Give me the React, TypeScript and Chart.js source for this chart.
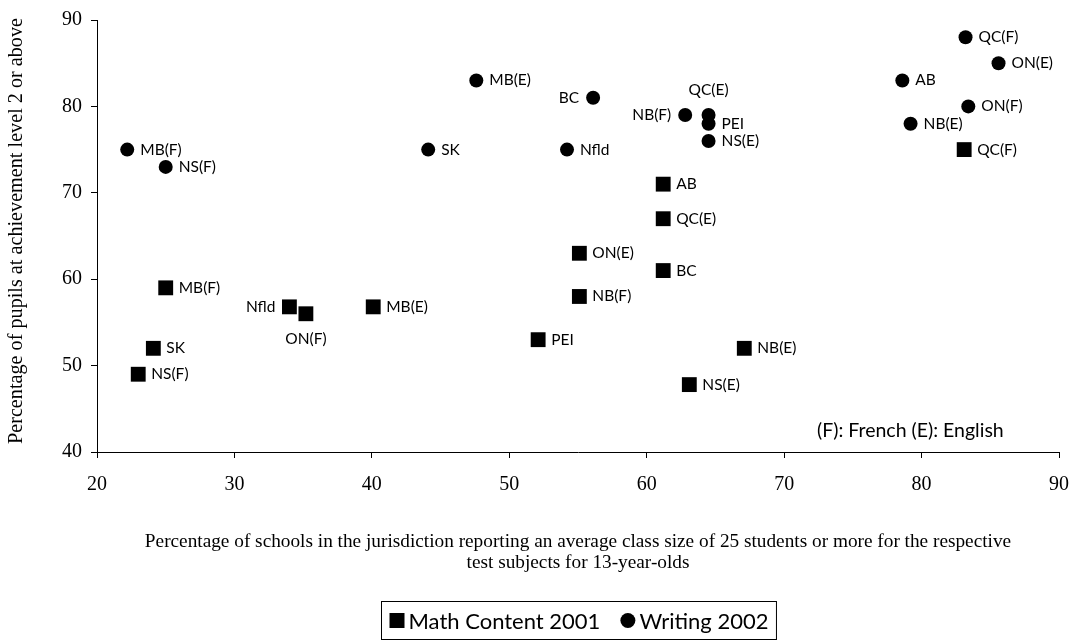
import React, { useEffect, useRef } from "react";
import { Chart, registerables } from "chart.js";

Chart.register(...registerables);

// ---- Data ----
const mathLabels = ["MB(F)", "NS(F)", "SK", "Nfld", "ON(F)", "MB(E)", "PEI", "ON(E)", "NB(F)", "AB", "QC(E)", "BC", "NS(E)", "NB(E)", "QC(F)"];
const mathX = [25.0, 23.0, 24.1, 34.0, 35.2, 40.1, 52.1, 55.1, 55.1, 61.2, 61.2, 61.2, 63.1, 67.1, 83.1];
const mathY = [59, 49, 52, 56.8, 56, 56.8, 53, 63, 58, 71, 67, 61, 47.8, 52, 75];
const mathPlacement = ["right", "right", "right", "left", "below", "right", "right", "right", "right", "right", "right", "right", "right", "right", "right"];

const writingLabels = ["MB(F)", "NS(F)", "SK", "MB(E)", "Nfld", "BC", "NB(F)", "QC(E)", "PEI", "NS(E)", "AB", "NB(E)", "QC(F)", "ON(F)", "ON(E)"];
const writingX = [22.2, 25.0, 44.1, 47.6, 54.2, 56.1, 62.8, 64.5, 64.5, 64.5, 78.6, 79.2, 83.2, 83.4, 85.6];
const writingY = [75, 73, 75, 83, 75, 81, 79, 79, 78, 76, 83, 78, 88, 80, 85];
const writingPlacement = ["right", "right", "right", "right", "right", "left", "left", "above", "right", "right", "right", "right", "right", "right", "right"];

const seriesNames = ["Math Content 2001", "Writing 2002"];
const xTitleLines = [
  "Percentage of schools in the jurisdiction reporting an average class size of 25 students or more for the respective",
  "test subjects for 13-year-olds",
];
const yTitle = "Percentage of pupils at achievement level 2 or above";
const noteText = "(F): French (E): English";

const labelSets = [mathLabels, writingLabels];
const placementSets = [mathPlacement, writingPlacement];

const SERIF = "'Liberation Serif', 'Times New Roman', serif";
const SANS = "Lato, 'Open Sans', sans-serif";

const decorPlugin = {
  id: "decor",
  afterDatasetsDraw(chart: any) {
    const ctx = chart.ctx;
    ctx.save();
    ctx.fillStyle = "#000";
    ctx.font = `15.5px ${SANS}`;
    ctx.textBaseline = "middle";
    chart.data.datasets.forEach((_ds: any, di: number) => {
      const meta = chart.getDatasetMeta(di);
      meta.data.forEach((pt: any, i: number) => {
        const pl = placementSets[di][i];
        const t = labelSets[di][i];
        let x = pt.x;
        let y = pt.y;
        if (pl === "right") {
          ctx.textAlign = "left";
          x += 13;
        } else if (pl === "left") {
          ctx.textAlign = "right";
          x -= 14;
        } else if (pl === "above") {
          ctx.textAlign = "center";
          y -= 25;
        } else {
          ctx.textAlign = "center";
          y += 25;
        }
        ctx.fillText(t, x, y);
      });
    });
    ctx.restore();
  },
  afterDraw(chart: any) {
    const ctx = chart.ctx;
    const area = chart.chartArea;
    const cx = (area.left + area.right) / 2;
    ctx.save();
    ctx.fillStyle = "#000";
    ctx.strokeStyle = "#000";

    // x-axis title
    ctx.font = `19.3px ${SERIF}`;
    ctx.textAlign = "center";
    ctx.textBaseline = "middle";
    ctx.fillText(xTitleLines[0], cx, 542);
    ctx.fillText(xTitleLines[1], cx, 563);

    // y-axis title
    ctx.save();
    ctx.translate(17, 231);
    ctx.rotate(-Math.PI / 2);
    ctx.font = `20.2px ${SERIF}`;
    ctx.fillText(yTitle, 0, 0);
    ctx.restore();

    // note
    ctx.font = `19.5px ${SANS}`;
    ctx.textAlign = "left";
    ctx.fillText(noteText, 817, 431);

    // legend
    ctx.font = `22px ${SANS}`;
    const w1 = ctx.measureText(seriesNames[0]).width;
    const w2 = ctx.measureText(seriesNames[1]).width;
    const mk = 15;
    const gapA = 4;
    const gapB = 20;
    const pad = 8;
    const contentW = mk + gapA + w1 + gapB + mk + gapA + w2;
    const boxW = contentW + pad * 2;
    const bx = Math.round(cx - boxW / 2) + 0.5;
    const by = 601.5;
    const bh = 38;
    ctx.lineWidth = 1;
    ctx.strokeRect(bx, by, boxW, bh);
    const my = by + bh / 2;
    let x = bx + pad;
    ctx.fillRect(x, my - mk / 2, mk, mk);
    x += mk + gapA;
    ctx.textAlign = "left";
    ctx.fillText(seriesNames[0], x, my + 1);
    x += w1 + gapB;
    ctx.beginPath();
    ctx.arc(x + mk / 2, my, mk / 2, 0, Math.PI * 2);
    ctx.fill();
    x += mk + gapA;
    ctx.fillText(seriesNames[1], x, my + 1);
    ctx.restore();
  },
};

export default function App() {
  const ref = useRef<HTMLCanvasElement | null>(null);
  useEffect(() => {
    if (!ref.current) return;
    const chart = new Chart(ref.current, {
      type: "scatter",
      data: {
        datasets: [
          {
            label: seriesNames[0],
            data: mathX.map((x, i) => ({ x, y: mathY[i] })),
            pointStyle: "rect",
            pointRadius: 10.5,
            pointHoverRadius: 10.5,
            backgroundColor: "#000",
            borderColor: "#000",
            borderWidth: 0,
          },
          {
            label: seriesNames[1],
            data: writingX.map((x, i) => ({ x, y: writingY[i] })),
            pointStyle: "circle",
            pointRadius: 7,
            pointHoverRadius: 7,
            backgroundColor: "#000",
            borderColor: "#000",
            borderWidth: 0,
          },
        ],
      },
      options: {
        responsive: false,
        animation: false,
        devicePixelRatio: 1,
        layout: { padding: { left: 0, top: 20, right: 15, bottom: 0 } },
        plugins: { legend: { display: false }, tooltip: { enabled: false } },
        scales: {
          x: {
            type: "linear",
            min: 20,
            max: 90,
            ticks: { stepSize: 10, color: "#000", font: { family: SERIF, size: 20 }, padding: 15 },
            grid: { drawOnChartArea: false, drawTicks: true, tickLength: 6, color: "#000", tickColor: "#000" },
            border: { display: true, color: "#000", width: 1 },
            afterFit: (s: any) => {
              s.height = 191;
              s.paddingRight = 0;
              s.paddingLeft = 0;
            },
          },
          y: {
            type: "linear",
            min: 40,
            max: 90,
            ticks: { stepSize: 10, color: "#000", font: { family: SERIF, size: 20 }, padding: 9 },
            grid: { drawOnChartArea: false, drawTicks: true, tickLength: 6, color: "#000", tickColor: "#000" },
            border: { display: true, color: "#000", width: 1 },
            afterFit: (s: any) => {
              s.width = 97;
              s.paddingTop = 0;
              s.paddingBottom = 0;
            },
          },
        },
      },
      plugins: [decorPlugin],
    });
    return () => chart.destroy();
  }, []);
  return (
    <div style={{ position: "fixed", left: 0, top: 0, width: 1074, height: 643, background: "#fff" }}>
      <canvas ref={ref} width={1074} height={643} style={{ display: "block" }} />
    </div>
  );
}
